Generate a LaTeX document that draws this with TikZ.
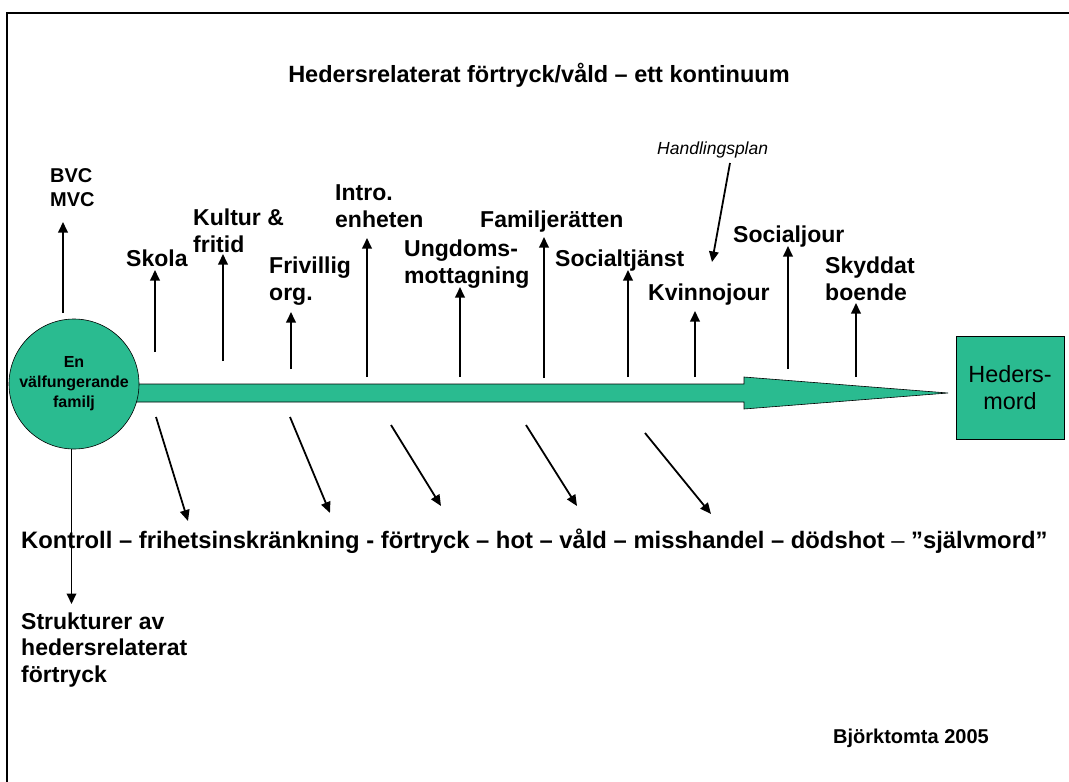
\documentclass[tikz,border=0pt]{standalone}
\usepackage{fontspec}
\setmainfont{Liberation Sans}
\usetikzlibrary{arrows.meta}
\definecolor{teal1}{RGB}{42,187,144}
\begin{document}
\begin{tikzpicture}[x=1pt,y=-1pt,
  lbl/.style={anchor=base west,inner sep=0pt,align=left,font=\fontsize{23}{26.5}\selectfont\bfseries},
  upar/.style={line width=1.8pt,-{Triangle[length=10.5pt,width=9.5pt]}},
  dnar/.style={line width=1.8pt,-{Triangle[length=11pt,width=9.5pt]}}]
\useasboundingbox (0,0) rectangle (1069,782);
% frame
\draw[line width=2.6pt] (7,790) -- (7,13) -- (1075,13);
% title
\node[anchor=base,inner sep=0pt,font=\fontsize{23.5}{27}\selectfont\bfseries] (title) at (539,82) {Hedersrelaterat förtryck/våld – ett kontinuum};
% big arrow
\draw[fill=teal1,line width=0.6pt] (100,384) -- (744,384) -- (744,377) -- (948,393) -- (744,409) -- (744,402) -- (100,402) -- cycle;
% family circle
\node[circle,draw,line width=0.6pt,fill=teal1,minimum size=130pt,inner sep=0pt,align=center,
  font=\fontsize{16}{20}\selectfont\bfseries] (fam) at (74,384) {En\\välfungerande\\familj};
% Hedersmord box
\node[draw,line width=0.6pt,fill=teal1,minimum width=108pt,minimum height=103pt,inner sep=0pt,align=center,
  font=\fontsize{23.4}{27}\selectfont] (hm) at (1010,387.5) {Heders-\\mord};
% labels above (base = baseline of the last line)
\node[lbl,font=\fontsize{20}{24}\selectfont\bfseries] (bvc) at (50,206.7) {BVC\\MVC};
\node[lbl] (skola) at (126,266) {Skola};
\node[lbl] (kultur) at (193,252) {Kultur \&\\fritid};
\node[lbl] (friv) at (269,300) {Frivillig\\org.};
\node[lbl] (intro) at (335,227) {Intro.\\enheten};
\node[lbl] (ungd) at (404,283) {Ungdoms-\\mottagning};
\node[lbl] (famr) at (480,227) {Familjerätten};
\node[lbl] (soct) at (555,266) {Socialtjänst};
\node[lbl] (kvin) at (648,300) {Kvinnojour};
\node[lbl] (socj) at (733,242) {Socialjour};
\node[lbl] (skyd) at (825,300) {Skyddat\\boende};
\node[anchor=base west,inner sep=0pt,font=\fontsize{17.5}{20}\selectfont\itshape] (hand) at (657,154) {Handlingsplan};
% labels below
\node[lbl,font=\fontsize{23.8}{27}\selectfont\bfseries] (kontr) at (21,548) {Kontroll – frihetsinskränkning - förtryck – hot – våld – misshandel – dödshot {\mdseries –} ”självmord”};
\node[lbl] (strukt) at (21,682) {Strukturer av\\hedersrelaterat\\förtryck};
\node[lbl,font=\fontsize{20}{24}\selectfont\bfseries] (bjork) at (833,743) {Björktomta 2005};
% arrow end coordinates
\coordinate (a1s) at (63,313);  \coordinate (a1e) at (63,222);
\coordinate (a2s) at (155,352); \coordinate (a2e) at (155,270);
\coordinate (a3s) at (223,361); \coordinate (a3e) at (223,254);
\coordinate (a4s) at (291,369); \coordinate (a4e) at (291,312);
\coordinate (a5s) at (367,377); \coordinate (a5e) at (367,238);
\coordinate (a6s) at (460,377); \coordinate (a6e) at (460,287);
\coordinate (a7s) at (544,378); \coordinate (a7e) at (544,237);
\coordinate (a8s) at (628,377); \coordinate (a8e) at (628,270);
\coordinate (a9s) at (695,377); \coordinate (a9e) at (695,311);
\coordinate (a10s) at (788,369); \coordinate (a10e) at (788,246);
\coordinate (a11s) at (856,377); \coordinate (a11e) at (856,303);
\coordinate (hs) at (730,163); \coordinate (he) at (712,262);
\draw[upar] (a1s) -- (a1e);
\draw[upar] (a2s) -- (a2e);
\draw[upar] (a3s) -- (a3e);
\draw[upar] (a4s) -- (a4e);
\draw[upar] (a5s) -- (a5e);
\draw[upar] (a6s) -- (a6e);
\draw[upar] (a7s) -- (a7e);
\draw[upar] (a8s) -- (a8e);
\draw[upar] (a9s) -- (a9e);
\draw[upar] (a10s) -- (a10e);
\draw[upar] (a11s) -- (a11e);
\draw[upar] (hs) -- (he);
% slanted arrows below
\coordinate (d1s) at (156,417); \coordinate (d1e) at (188,521);
\coordinate (d2s) at (290,417); \coordinate (d2e) at (330,513);
\coordinate (d3s) at (391,425); \coordinate (d3e) at (441,506);
\coordinate (d4s) at (526,425); \coordinate (d4e) at (577,506);
\coordinate (d5s) at (645,433); \coordinate (d5e) at (711,514);
\draw[dnar] (d1s) -- (d1e);
\draw[dnar] (d2s) -- (d2e);
\draw[dnar] (d3s) -- (d3e);
\draw[dnar] (d4s) -- (d4e);
\draw[dnar] (d5s) -- (d5e);
% vertical down from family
\coordinate (vs) at (71.5,449); \coordinate (ve) at (71.5,604);
\draw[upar] (vs) -- (ve);
\end{tikzpicture}
\end{document}
